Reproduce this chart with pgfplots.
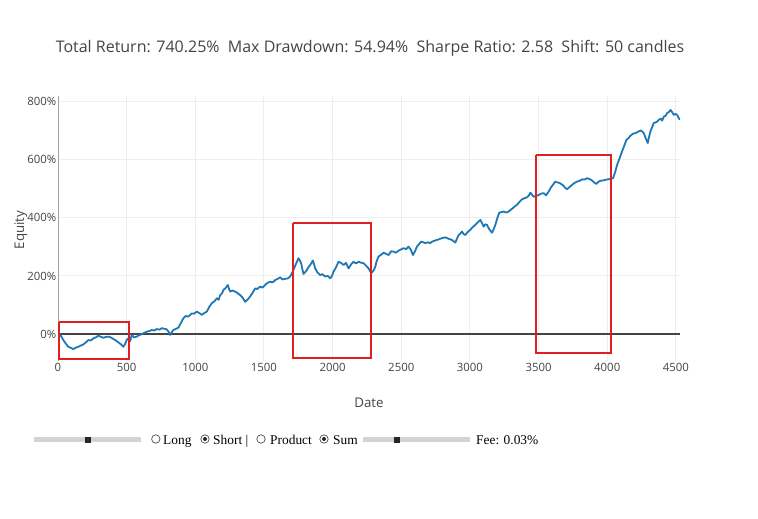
\documentclass[border=0pt]{standalone}
\usepackage{fontspec}
\setmainfont{Open Sans}
\newfontfamily\seriffont{Liberation Serif}
\usepackage{pgfplots}
\pgfplotsset{compat=1.18}
\definecolor{plotblue}{HTML}{1F77B4}
\definecolor{gridc}{HTML}{EEEEEE}
\definecolor{tickc}{HTML}{444444}
\definecolor{boxred}{HTML}{E02020}
\definecolor{slidergray}{HTML}{D3D3D3}
\pgfplotstableread{
x y
0 0
20 -5
39 -21
60 -35
75 -44
95 -48
112 -52
130 -47
148 -44
165 -40
185 -36
205 -28
221 -21
240 -22
258 -15
275 -12
294 -6
310 -9
330 -13
350 -10
367 -9
385 -12
403 -17
420 -22
440 -29
460 -36
476 -44
490 -33
500 -21
515 -14
525 -25
537 -3
555 -12
573 -9
590 -4
610 -1
628 4
646 8
665 10
683 14
700 12
719 17
740 15
756 20
775 18
792 16
805 8
816 -3
828 6
841 14
860 18
877 22
895 38
913 54
930 62
950 60
974 71
990 70
1011 77
1030 72
1047 66
1065 72
1084 77
1100 92
1120 106
1140 113
1157 123
1170 118
1181 134
1195 140
1205 152
1220 158
1237 169
1246 155
1254 146
1270 150
1290 146
1310 140
1327 134
1345 125
1363 111
1380 118
1399 129
1415 140
1436 157
1450 155
1472 163
1490 160
1509 169
1525 176
1545 180
1565 178
1582 186
1600 190
1618 195
1635 188
1655 190
1675 192
1691 198
1705 210
1715 221
1730 238
1751 261
1760 255
1771 244
1780 222
1788 207
1805 215
1824 230
1840 240
1856 253
1865 240
1873 226
1890 212
1910 203
1925 206
1946 198
1965 200
1983 192
1995 200
2007 215
2025 230
2043 249
2060 245
2080 238
2098 245
2116 226
2135 240
2152 249
2170 243
2189 249
2205 246
2225 244
2245 235
2262 226
2275 214
2285 211
2300 220
2311 232
2320 250
2335 267
2350 272
2371 280
2390 276
2408 272
2425 285
2444 284
2460 280
2480 287
2500 292
2517 296
2535 292
2553 301
2570 290
2585 272
2600 285
2614 301
2630 310
2644 318
2660 316
2675 313
2695 316
2711 313
2724 318
2745 322
2772 326
2795 330
2821 333
2845 328
2869 324
2894 315
2905 328
2918 341
2930 346
2942 353
2955 344
2966 341
2985 352
3003 359
3020 368
3039 376
3058 385
3076 393
3088 382
3100 370
3112 378
3124 376
3142 360
3161 349
3172 360
3185 376
3200 400
3214 418
3230 420
3246 422
3265 418
3282 422
3297 428
3311 433
3328 440
3343 445
3360 455
3379 464
3398 468
3416 471
3430 478
3440 487
3452 480
3464 473
3484 476
3501 479
3520 484
3537 485
3555 478
3574 491
3590 505
3606 515
3622 525
3640 522
3655 520
3670 515
3683 510
3695 503
3707 499
3725 506
3744 514
3760 520
3780 525
3800 528
3817 533
3835 532
3853 537
3870 534
3890 529
3905 522
3921 517
3935 524
3950 528
3970 529
3987 531
4005 533
4023 534
4043 537
4058 558
4072 583
4090 605
4108 629
4125 650
4140 669
4155 675
4169 683
4187 690
4205 692
4225 697
4242 701
4255 698
4266 692
4280 675
4295 658
4305 680
4315 699
4327 712
4339 727
4358 730
4376 738
4390 742
4400 735
4412 749
4425 752
4436 761
4450 765
4461 772
4473 764
4485 755
4497 758
4509 755
4520 745
4528 738
}\equity
\begin{document}
\begin{tikzpicture}[x=1pt,y=1pt]
\useasboundingbox (0,0) rectangle (758,519);
\begin{axis}[
  at={(58pt,158pt)}, anchor=south west,
  scale only axis, width=622pt, height=265pt,
  xmin=0, xmax=4530, ymin=-93, ymax=820,
  axis lines*=left,
  x axis line style={draw=none},
  y axis line style={draw=gray!75, line width=1pt},
  xtick={0,500,...,4500}, ytick={0,200,...,800},
  grid=major, major grid style={draw=gridc, line width=1pt},
  major tick length=0pt,
  /pgf/number format/assume math mode=true,
  /pgf/number format/1000 sep={},
  tick label style={font=\fontsize{11.4}{13}\selectfont, text=tickc},
  yticklabel={\pgfmathprintnumber{\tick}\%},
  yticklabel style={inner xsep=1.5pt},
  xticklabel style={inner ysep=2pt},
  clip=true,
]
\addplot[draw=tickc, line width=1.2pt, forget plot] coordinates {(0,0) (4530,0)};
\addplot[draw=plotblue, line width=1.8pt, line join=round, no marks] table[x=x, y=y] {\equity};
\addplot[draw=boxred, line width=2pt, line join=miter, no marks] coordinates {(7,40) (517,40) (517,-86) (7,-86) (7,40)};
\addplot[draw=boxred, line width=2pt, line join=miter, no marks] coordinates {(1715,384) (2279,384) (2279,-84) (1715,-84) (1715,384)};
\addplot[draw=boxred, line width=2pt, line join=miter, no marks] coordinates {(3484,615) (4030,615) (4030,-64) (3484,-64) (3484,615)};
\end{axis}
% title
\node[anchor=base, font=\fontsize{16}{18}\selectfont, text=tickc, inner sep=0pt] at (370,466)
  {Total Return: 740.25\%\ \ Max Drawdown: 54.94\%\ \ Sharpe Ratio: 2.58\ \ Shift: 50 candles};
% axis titles
\node[anchor=base, font=\fontsize{13.3}{15}\selectfont, text=tickc, inner sep=0pt] at (369,111) {Date};
\node[anchor=base, rotate=90, font=\fontsize{13.3}{15}\selectfont, text=tickc, inner sep=0pt] at (24,289) {Equity};
% widgets
\fill[slidergray] (34,76.5) rectangle (141,81.5);
\fill[black!85] (85,76) rectangle (91,82);
\draw[black!70, line width=0.7pt] (155.8,80) circle (4.2);
\node[anchor=base west, font=\seriffont\fontsize{13.4}{15}\selectfont, inner sep=0pt] at (163,74.5) {Long};
\draw[black!70, line width=0.7pt] (205,80) circle (4.2);
\fill[black!85] (205,80) circle (2);
\node[anchor=base west, font=\seriffont\fontsize{13.4}{15}\selectfont, inner sep=0pt] at (213,74.5) {Short |};
\draw[black!70, line width=0.7pt] (261,80) circle (4.2);
\node[anchor=base west, font=\seriffont\fontsize{13.4}{15}\selectfont, inner sep=0pt] at (270,74.5) {Product};
\draw[black!70, line width=0.7pt] (324,80) circle (4.2);
\fill[black!85] (324,80) circle (2);
\node[anchor=base west, font=\seriffont\fontsize{13.4}{15}\selectfont, inner sep=0pt] at (333,74.5) {Sum};
\fill[slidergray] (363,76.5) rectangle (470,81.5);
\fill[black!85] (394,76) rectangle (400,82);
\node[anchor=base west, font=\seriffont\fontsize{13.4}{15}\selectfont, inner sep=0pt] at (476,74.5) {Fee: 0.03\%};
\end{tikzpicture}
\end{document}
